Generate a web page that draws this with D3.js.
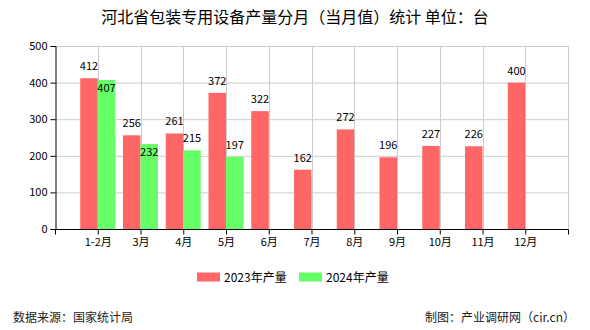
<!DOCTYPE html>
<html><head><meta charset="utf-8">
<script src="https://cdn.jsdelivr.net/npm/d3@7/dist/d3.min.js"></script>
<style>body{margin:0;background:#fff;}svg{display:block;font-family:"Noto Sans CJK SC","DejaVu Sans",sans-serif;}</style>
</head><body><svg id="c" width="590" height="330"></svg>
<script>
const categories = ["1-2月","3月","4月","5月","6月","7月","8月","9月","10月","11月","12月"];
const values2023 = [412,256,261,372,322,162,272,196,227,226,400];
const values2024 = [407,232,215,197];
const seriesNames = ["2023年产量","2024年产量"];
const yTicks = [0,100,200,300,400,500];
const colors = ["#ff6666","#66ff66"];

const svg = d3.select("#c");
const L=55, R=568, T=46, B=229;
const x = d3.scalePoint().domain(categories).range([L,R]).padding(1);
const y = d3.scaleLinear().domain([0,500]).range([B,T]);
const bw = 17.5;

// grid
svg.append("g").selectAll("line").data(yTicks.slice(1)).join("line")
  .attr("x1",L).attr("x2",R).attr("y1",d=>y(d)+0.5).attr("y2",d=>y(d)+0.5)
  .attr("stroke","#cccccc");
svg.append("g").selectAll("line").data(categories.concat(["__end"])).join("line")
  .attr("x1",d=>d==="__end"?R+0.5:Math.round(x(d))+0.5).attr("x2",d=>d==="__end"?R+0.5:Math.round(x(d))+0.5)
  .attr("y1",T).attr("y2",B).attr("stroke","#cccccc");

// bars
const g = svg.append("g");
g.selectAll(".b23").data(values2023).join("rect")
  .attr("x",(d,i)=>x(categories[i])-bw).attr("width",bw)
  .attr("y",d=>y(d)).attr("height",d=>B-y(d)).attr("fill",colors[0]);
g.selectAll(".b24").data(values2024).join("rect").attr("class","b24")
  .attr("x",(d,i)=>x(categories[i])).attr("width",bw)
  .attr("y",d=>y(d)).attr("height",d=>B-y(d)).attr("fill",colors[1]);

// labels
const lab = svg.append("g").attr("font-size",11).attr("fill","#000").attr("text-anchor","middle");
lab.selectAll(".l23").data(values2023).join("text")
  .attr("x",(d,i)=>x(categories[i])-bw/2).attr("y",d=>y(d)-8).text(d=>d);
lab.selectAll(".l24").data(values2024).join("text").attr("class","l24")
  .attr("x",(d,i)=>x(categories[i])+bw/2)
  .attr("y",(d,i)=>{
    const redTop = y(values2023[i])-8, myTop = y(d)-8;
    return Math.abs(redTop-myTop) < 12 ? y(d)+12 : myTop;
  }).text(d=>d);

// axes
const ya = svg.append("g").attr("transform",`translate(${L+0.5},0)`)
  .call(d3.axisLeft(y).tickValues(yTicks).tickSize(5).tickPadding(3));
const xa = svg.append("g").attr("transform",`translate(0,${B+0.5})`)
  .call(d3.axisBottom(x).tickSize(5).tickPadding(4));
xa.append("line").attr("x1",R+0.5).attr("x2",R+0.5).attr("y1",0).attr("y2",5).attr("stroke","#000");
xa.append("line").attr("x1",L+0.5).attr("x2",L+0.5).attr("y1",0).attr("y2",5).attr("stroke","#000");
[ya,xa].forEach(a=>{
  a.selectAll("path.domain").attr("stroke","#000");
  a.selectAll(".tick line").attr("stroke","#000");
  a.selectAll("text").attr("font-size",11).attr("fill","#000")
   .attr("font-family",'"Noto Sans CJK SC","DejaVu Sans",sans-serif');
});
xa.select("path.domain").attr("d",`M${L+0.5},0H${R+0.5}`);

// title
svg.append("text").attr("x",295).attr("y",23).attr("text-anchor","middle")
  .attr("font-size",16).attr("fill","#000").text("河北省包装专用设备产量分月（当月值）统计 单位：台");

// legend
const leg = svg.append("g").attr("font-size",12);
const legX = [197,299];
seriesNames.forEach((n,i)=>{
  leg.append("rect").attr("x",legX[i]).attr("y",272.5).attr("width",23).attr("height",9).attr("fill",colors[i]);
  leg.append("text").attr("x",legX[i]+27).attr("y",281.5).attr("fill","#000").text(n);
});

// footer
svg.append("text").attr("x",13).attr("y",322).attr("font-size",12).attr("fill","#222").text("数据来源：国家统计局");
svg.append("text").attr("x",575).attr("y",322).attr("text-anchor","end").attr("font-size",12).attr("fill","#222").text("制图：产业调研网（cir.cn）");
</script></body></html>
